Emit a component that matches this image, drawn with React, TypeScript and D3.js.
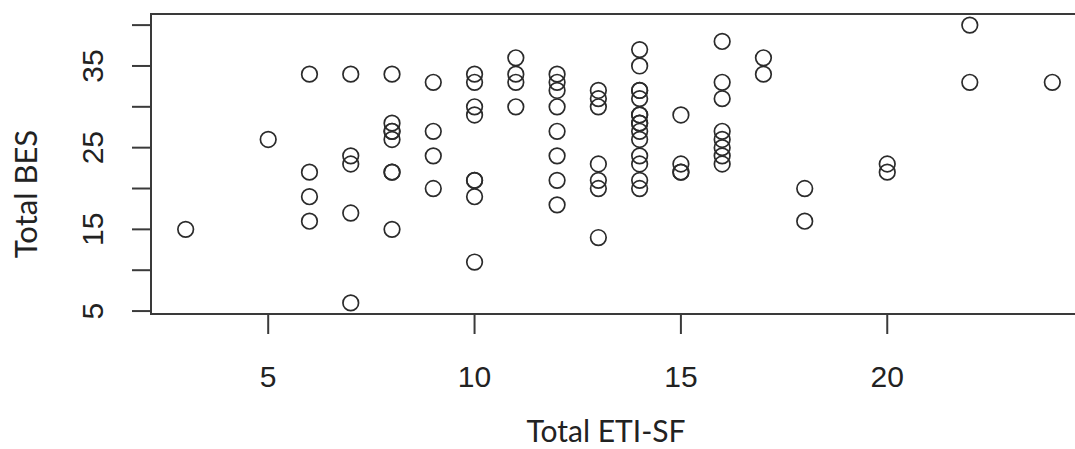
import React from "react";
import * as d3 from "d3";

// Total ETI-SF (x) vs Total BES (y)
const etiX = [
  3, 5,
  6, 6, 6, 6,
  7, 7, 7, 7, 7,
  8, 8, 8, 8, 8, 8, 8, 8,
  9, 9, 9, 9,
  10, 10, 10, 10, 10, 10, 10, 10,
  11, 11, 11, 11,
  12, 12, 12, 12, 12, 12, 12, 12,
  13, 13, 13, 13, 13, 13, 13,
  14, 14, 14, 14, 14, 14, 14, 14, 14, 14, 14, 14, 14, 14, 14,
  15, 15, 15, 15,
  16, 16, 16, 16, 16, 16, 16, 16,
  17, 17,
  18, 18,
  20, 20,
  22, 22,
  24,
];
const besY = [
  15, 26,
  34, 22, 19, 16,
  34, 24, 23, 17, 6,
  34, 28, 27, 27, 26, 22, 22, 15,
  33, 27, 24, 20,
  34, 33, 30, 29, 21, 21, 19, 11,
  36, 34, 33, 30,
  34, 33, 32, 30, 27, 24, 21, 18,
  32, 31, 30, 23, 21, 20, 14,
  37, 35, 32, 32, 31, 29, 28, 28, 27, 26, 24, 23, 21, 20, 29,
  29, 23, 22, 22,
  38, 33, 31, 27, 26, 25, 24, 23,
  36, 34,
  20, 16,
  23, 22,
  40, 33,
  33,
];

const xTicks = [5, 10, 15, 20];
const yTicks = [5, 10, 15, 20, 25, 30, 35, 40];
const yLabels = [5, 15, 25, 35];

const W = 1075;
const H = 449;

export default function App() {
  // R style: data range padded by 4% each side
  const xr = d3.extent(etiX) as [number, number];
  const yr = d3.extent(besY) as [number, number];
  const xp = (xr[1] - xr[0]) * 0.04;
  const yp = (yr[1] - yr[0]) * 0.04;

  const left = 151;
  const right = 1087;
  const top = 14;
  const bottom = 314;

  const x = d3.scaleLinear().domain([xr[0] - xp, xr[1] + xp]).range([left, right]);
  const y = d3.scaleLinear().domain([yr[0] - yp, yr[1] + yp]).range([bottom, top]);

  const axisColor = "#3a3a3a";
  const tickFont = "'Liberation Sans', Arial, sans-serif";
  const titleFont = "Lato, 'Noto Sans', sans-serif";

  return (
    <div style={{ position: "fixed", left: 0, top: 0 }}>
      <svg width={W} height={H} viewBox={`0 0 ${W} ${H}`} style={{ display: "block", background: "#fff" }}>
        {/* plot box */}
        <rect
          x={left}
          y={top}
          width={right - left}
          height={bottom - top}
          fill="none"
          stroke={axisColor}
          strokeWidth={2}
        />

        {/* y axis */}
        <line x1={left} x2={left} y1={y(yTicks[0])} y2={y(yTicks[yTicks.length - 1])} stroke={axisColor} strokeWidth={2} />
        {yTicks.map((t) => (
          <line key={"yt" + t} x1={left - 19} x2={left} y1={y(t)} y2={y(t)} stroke={axisColor} strokeWidth={2} />
        ))}
        {yLabels.map((t) => (
          <text
            key={"yl" + t}
            x={103}
            y={y(t)}
            transform={`rotate(-90, 103, ${y(t)})`}
            textAnchor="middle"
            fontFamily={tickFont}
            fontSize={30}
            fill="#222"
          >
            {t}
          </text>
        ))}

        {/* x axis */}
        <line x1={x(xTicks[0])} x2={x(xTicks[xTicks.length - 1])} y1={bottom} y2={bottom} stroke={axisColor} strokeWidth={2} />
        {xTicks.map((t) => (
          <line key={"xt" + t} x1={x(t)} x2={x(t)} y1={bottom} y2={bottom + 20} stroke={axisColor} strokeWidth={2} />
        ))}
        {xTicks.map((t) => (
          <text
            key={"xl" + t}
            x={x(t)}
            y={387}
            textAnchor="middle"
            fontFamily={tickFont}
            fontSize={30}
            fill="#222"
          >
            {t}
          </text>
        ))}

        {/* points */}
        {etiX.map((v, i) => (
          <circle
            key={i}
            cx={x(v)}
            cy={y(besY[i])}
            r={7.8}
            fill="none"
            stroke="#2b2b2b"
            strokeWidth={1.7}
          />
        ))}

        {/* axis titles */}
        <text x={606} y={442} textAnchor="middle" fontFamily={titleFont} fontSize={30} fill="#222">
          Total ETI-SF
        </text>
        <text
          x={37}
          y={194}
          transform={`rotate(-90, 37, 194)`}
          textAnchor="middle"
          fontFamily={titleFont}
          fontSize={31}
          fill="#222"
        >
          Total BES
        </text>
      </svg>
    </div>
  );
}
